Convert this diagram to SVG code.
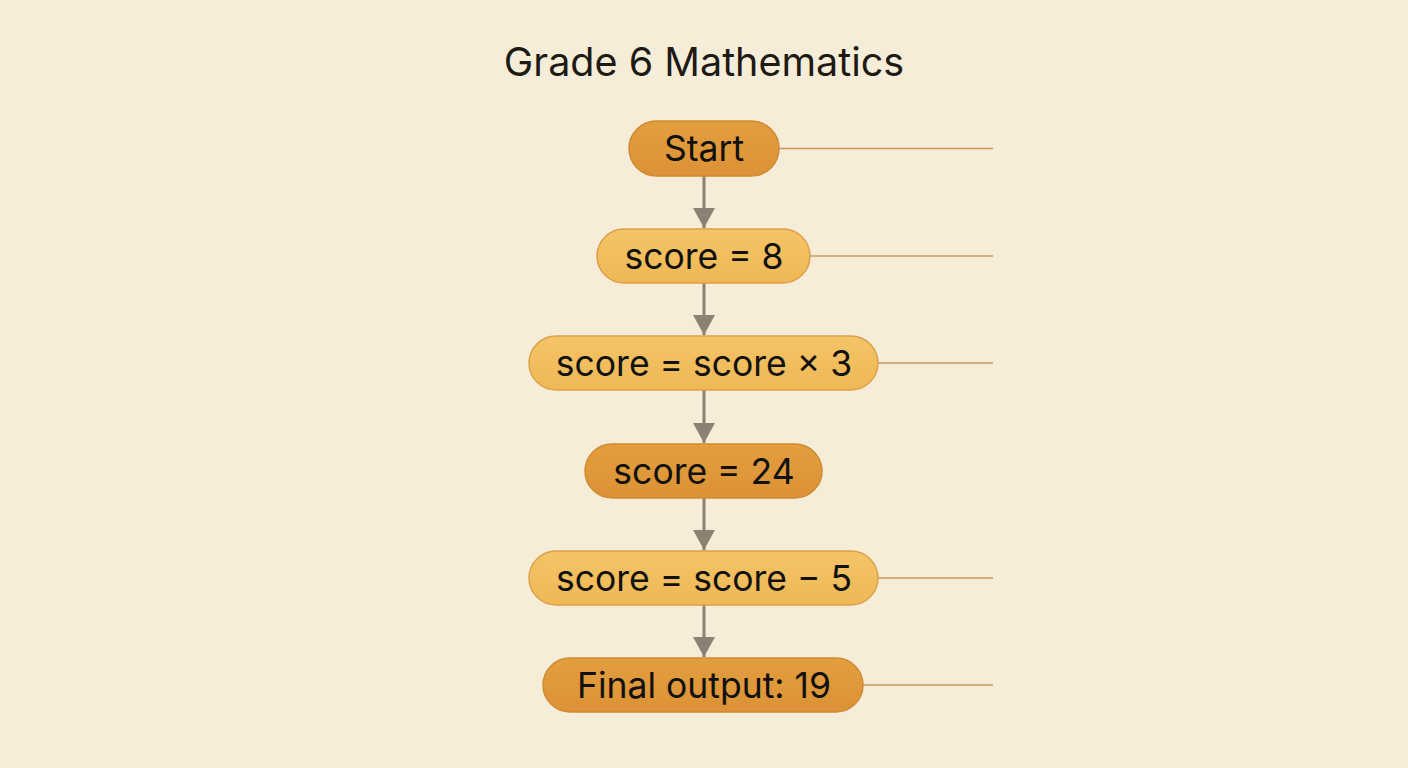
<svg xmlns="http://www.w3.org/2000/svg" width="1408" height="768" viewBox="0 0 1408 768">
<defs>
<marker id="ah" markerWidth="24" markerHeight="22" refX="20" refY="11" orient="auto" markerUnits="userSpaceOnUse">
<path d="M0,0 L20,11 L0,22 Z" fill="#8C8173"/>
</marker>
<linearGradient id="dark" x1="0" y1="0" x2="0" y2="1"><stop offset="0" stop-color="#E39E3E"/><stop offset="1" stop-color="#DB9236"/></linearGradient>
<linearGradient id="light" x1="0" y1="0" x2="0" y2="1"><stop offset="0" stop-color="#F4C467"/><stop offset="1" stop-color="#EFB855"/></linearGradient>
</defs>
<style>
.dark{fill:url(#dark);stroke:#CF8A33;stroke-width:1.5}
.light{fill:url(#light);stroke:#DDA04A;stroke-width:1.5}
.t{font-family:Inter,"Noto Sans",sans-serif;font-size:35.5px;fill:#111;text-anchor:middle}
.edge{stroke:#8C8173;stroke-width:3;fill:none}
.lead{stroke:#C99A5E;stroke-width:1.5;fill:none}
</style>
<rect width="1408" height="768" fill="#F6EDD9"/>
<text x="704" y="76" font-family="Inter,'Noto Sans',sans-serif" font-size="39.5" fill="#1E1A14" text-anchor="middle">Grade 6 Mathematics</text>
<g id="connectors">
<line class="edge" x1="704" y1="176" x2="704" y2="228" marker-end="url(#ah)"/>
<line class="edge" x1="704" y1="283" x2="704" y2="335" marker-end="url(#ah)"/>
<line class="edge" x1="704" y1="390" x2="704" y2="443" marker-end="url(#ah)"/>
<line class="edge" x1="704" y1="498" x2="704" y2="550" marker-end="url(#ah)"/>
<line class="edge" x1="704" y1="605" x2="704" y2="657" marker-end="url(#ah)"/>
<line class="lead" x1="779" y1="148.5" x2="993" y2="148.5"/>
<line class="lead" x1="810" y1="256" x2="993" y2="256"/>
<line class="lead" x1="878" y1="363" x2="993" y2="363"/>
<line class="lead" x1="878" y1="578" x2="993" y2="578"/>
<line class="lead" x1="863" y1="685" x2="993" y2="685"/>
</g>
<g id="start"><rect class="dark" x="629" y="121" width="150" height="55" rx="27.5"/><text class="t" x="704" y="161">Start</text></g>
<g id="n1"><rect class="light" x="597" y="229" width="213" height="54" rx="27"/><text class="t" x="704" y="269">score = 8</text></g>
<g id="n2"><rect class="light" x="529" y="336" width="349" height="54" rx="27"/><text class="t" x="704" y="376">score = score × 3</text></g>
<g id="n3"><rect class="dark" x="585" y="444" width="237" height="54" rx="27"/><text class="t" x="704" y="484">score = 24</text></g>
<g id="n4"><rect class="light" x="529" y="551" width="349" height="54" rx="27"/><text class="t" x="704" y="591">score = score − 5</text></g>
<g id="n5"><rect class="dark" x="543" y="658" width="320" height="54" rx="27"/><text class="t" x="704" y="698">Final output: 19</text></g>
</svg>
